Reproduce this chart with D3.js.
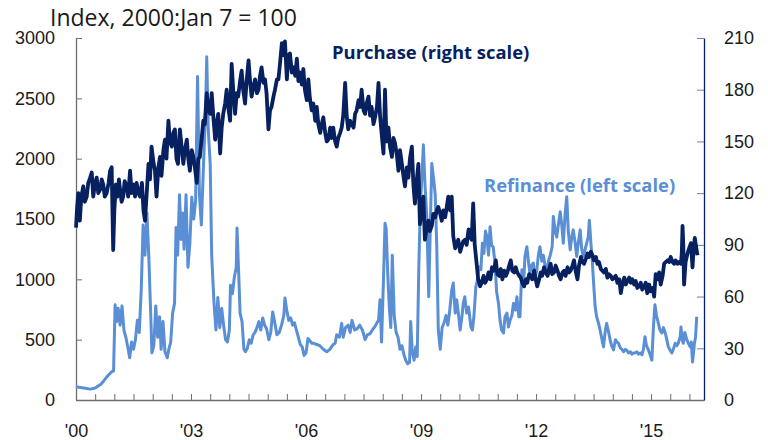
<!DOCTYPE html>
<html>
<head>
<meta charset="utf-8">
<script src="https://cdn.jsdelivr.net/npm/d3@7"></script>
<style>
  body { margin: 0; background: #fff; }
  svg { display: block; font-family: "Open Sans", "Noto Sans", sans-serif; }
</style>
</head>
<body>
<svg id="chart" width="768" height="440"></svg>
<script>
// weekly-ish readings, [decimal year, index]
const refinance = [
  [2000.00,110],[2000.08,105],[2000.20,100],[2000.37,90],[2000.50,100],[2000.65,130],[2000.80,190],[2000.93,235],[2000.98,240],
  [2001.02,790],[2001.06,650],[2001.10,760],[2001.15,620],[2001.20,780],[2001.25,580],[2001.30,520],[2001.35,440],[2001.40,350],
  [2001.45,480],[2001.50,420],[2001.55,500],[2001.60,660],[2001.65,560],[2001.70,900],[2001.75,1450],[2001.80,1200],[2001.85,1550],
  [2001.90,1180],[2001.95,700],[2001.98,390],[2002.03,450],[2002.08,780],[2002.13,520],[2002.18,690],[2002.22,420],[2002.27,650],
  [2002.32,400],[2002.38,350],[2002.42,420],[2002.47,480],[2002.52,720],[2002.57,800],[2002.61,1430],[2002.65,1200],[2002.70,1700],
  [2002.74,1330],[2002.78,1550],[2002.82,1250],[2002.87,1700],[2002.92,1100],[2002.97,1300],[2003.02,1680],[2003.07,1500],
  [2003.12,1650],[2003.17,2680],[2003.22,1700],[2003.27,1450],[2003.32,1900],[2003.38,2400],[2003.41,2845],[2003.45,2240],
  [2003.50,1960],[2003.54,1190],[2003.60,800],[2003.65,580],[2003.70,850],[2003.75,600],[2003.80,760],[2003.85,620],[2003.90,500],
  [2003.95,480],[2004.00,580],[2004.03,950],[2004.08,880],[2004.13,1020],[2004.18,1100],[2004.20,1425],[2004.24,1080],[2004.28,720],
  [2004.33,650],[2004.38,420],[2004.42,400],[2004.47,430],[2004.52,500],[2004.57,470],[2004.62,540],[2004.67,560],[2004.72,600],
  [2004.77,650],[2004.82,580],[2004.87,680],[2004.92,620],[2004.97,590],[2005.03,500],[2005.08,560],[2005.13,730],[2005.18,650],
  [2005.24,540],[2005.30,560],[2005.36,620],[2005.42,700],[2005.45,845],[2005.50,740],[2005.55,660],[2005.60,680],[2005.65,620],
  [2005.70,640],[2005.75,580],[2005.80,520],[2005.85,460],[2005.90,440],[2005.95,370],[2006.00,390],[2006.05,510],[2006.10,490],
  [2006.15,470],[2006.20,470],[2006.28,460],[2006.36,450],[2006.45,420],[2006.54,400],[2006.62,420],[2006.71,460],[2006.76,470],
  [2006.80,540],[2006.87,520],[2006.93,635],[2006.97,520],[2007.03,600],[2007.10,620],[2007.15,560],[2007.20,660],[2007.27,580],
  [2007.33,590],[2007.40,620],[2007.47,580],[2007.54,500],[2007.60,540],[2007.67,550],[2007.73,580],[2007.80,610],[2007.85,640],
  [2007.89,660],[2007.93,830],[2007.97,480],[2008.02,1000],[2008.06,1465],[2008.09,1420],[2008.13,1050],[2008.17,780],[2008.21,600],
  [2008.25,1200],[2008.30,700],[2008.35,560],[2008.40,520],[2008.45,420],[2008.50,450],[2008.55,380],[2008.60,330],[2008.65,300],
  [2008.70,310],[2008.73,650],[2008.77,400],[2008.82,330],[2008.86,440],[2008.90,360],[2008.94,1080],[2008.98,1600],[2009.03,1900],
  [2009.06,2115],[2009.10,1800],[2009.15,1520],[2009.20,855],[2009.24,1410],[2009.28,1960],[2009.33,1825],[2009.37,1700],
  [2009.41,1270],[2009.45,580],[2009.50,420],[2009.55,600],[2009.60,640],[2009.65,700],[2009.70,620],[2009.75,750],[2009.80,910],
  [2009.84,970],[2009.89,720],[2009.93,830],[2009.98,700],[2010.02,580],[2010.07,700],[2010.10,800],[2010.14,855],[2010.19,720],
  [2010.24,770],[2010.30,605],[2010.34,580],[2010.38,700],[2010.43,940],[2010.47,995],[2010.51,1105],[2010.56,1080],[2010.60,1300],
  [2010.64,1215],[2010.68,1400],[2010.72,1350],[2010.76,1200],[2010.80,1435],[2010.84,1280],[2010.88,1270],[2010.93,1135],
  [2010.97,900],[2011.02,800],[2011.06,660],[2011.10,580],[2011.15,555],[2011.19,690],[2011.24,720],[2011.28,605],[2011.32,660],
  [2011.37,700],[2011.41,800],[2011.46,745],[2011.50,855],[2011.55,690],[2011.58,690],[2011.63,1080],[2011.67,940],[2011.71,1190],
  [2011.76,1270],[2011.80,1150],[2011.84,1050],[2011.89,1120],[2011.93,1135],[2011.97,1000],[2012.02,1080],[2012.06,1200],
  [2012.10,1270],[2012.15,1150],[2012.19,1200],[2012.24,1100],[2012.28,1080],[2012.33,1160],[2012.37,1200],[2012.42,1270],
  [2012.45,1520],[2012.50,1400],[2012.54,1350],[2012.58,1450],[2012.63,1560],[2012.67,1450],[2012.71,1300],[2012.76,1550],
  [2012.80,1685],[2012.84,1400],[2012.89,1245],[2012.93,1350],[2012.97,1410],[2013.02,1300],[2013.06,1190],[2013.10,1300],
  [2013.15,1410],[2013.19,1250],[2013.23,1190],[2013.28,1250],[2013.32,1300],[2013.36,1350],[2013.39,1490],[2013.43,1300],
  [2013.47,1135],[2013.50,970],[2013.54,775],[2013.58,690],[2013.63,635],[2013.67,580],[2013.72,500],[2013.76,440],[2013.80,560],
  [2013.84,635],[2013.88,580],[2013.93,500],[2013.97,450],[2014.02,415],[2014.07,500],[2014.11,480],[2014.15,470],[2014.20,430],
  [2014.24,420],[2014.28,400],[2014.33,420],[2014.37,410],[2014.41,390],[2014.46,400],[2014.50,380],[2014.54,390],[2014.58,390],
  [2014.63,400],[2014.67,380],[2014.72,390],[2014.76,375],[2014.80,420],[2014.84,525],[2014.88,450],[2014.93,415],[2014.97,380],
  [2015.02,330],[2015.06,600],[2015.10,790],[2015.14,700],[2015.19,635],[2015.23,580],[2015.28,555],[2015.32,600],[2015.37,555],
  [2015.41,500],[2015.45,440],[2015.50,410],[2015.54,390],[2015.58,420],[2015.63,470],[2015.67,450],[2015.71,470],[2015.76,530],
  [2015.78,605],[2015.81,500],[2015.84,470],[2015.88,560],[2015.93,500],[2015.97,470],[2016.02,440],[2016.05,480],[2016.08,315],
  [2016.11,400],[2016.13,470],[2016.16,520],[2016.19,690]
];

const purchase = [
  [2000.00,100],[2000.03,112],[2000.06,120],[2000.10,104],[2000.14,118],[2000.19,124],[2000.23,115],[2000.28,118],[2000.32,126],
  [2000.37,129],[2000.41,132],[2000.45,118],[2000.50,126],[2000.54,129],[2000.58,120],[2000.63,122],[2000.67,128],[2000.71,125],
  [2000.75,118],[2000.80,120],[2000.85,126],[2000.89,133],[2000.93,135],[2000.97,87],[2001.00,110],[2001.04,125],[2001.08,118],
  [2001.12,128],[2001.15,122],[2001.19,115],[2001.23,118],[2001.27,127],[2001.32,124],[2001.36,118],[2001.41,133],[2001.45,120],
  [2001.50,125],[2001.54,118],[2001.58,126],[2001.63,120],[2001.67,118],[2001.72,126],[2001.76,110],[2001.80,104],[2001.85,122],
  [2001.89,137],[2001.93,128],[2001.97,147],[2002.02,138],[2002.06,133],[2002.10,118],[2002.15,135],[2002.19,141],[2002.23,130],
  [2002.28,145],[2002.32,151],[2002.36,140],[2002.41,162],[2002.45,150],[2002.50,147],[2002.54,155],[2002.58,157],[2002.62,140],
  [2002.66,137],[2002.71,157],[2002.75,148],[2002.80,137],[2002.84,145],[2002.89,151],[2002.93,140],[2002.97,133],[2003.02,145],
  [2003.06,141],[2003.10,135],[2003.15,126],[2003.19,140],[2003.23,141],[2003.28,152],[2003.32,162],[2003.36,160],[2003.41,178],
  [2003.45,168],[2003.50,166],[2003.54,178],[2003.58,165],[2003.63,151],[2003.67,160],[2003.71,166],[2003.76,143],[2003.80,158],
  [2003.84,166],[2003.89,172],[2003.93,180],[2003.97,170],[2004.02,162],[2004.06,195],[2004.10,180],[2004.15,166],[2004.19,178],
  [2004.23,176],[2004.28,185],[2004.32,191],[2004.36,180],[2004.41,172],[2004.45,185],[2004.50,197],[2004.54,185],[2004.58,176],
  [2004.63,182],[2004.67,186],[2004.72,178],[2004.76,180],[2004.80,188],[2004.84,193],[2004.89,184],[2004.93,186],[2004.97,178],
  [2005.02,157],[2005.06,168],[2005.10,170],[2005.15,176],[2005.19,180],[2005.24,186],[2005.28,186],[2005.32,195],[2005.37,207],
  [2005.41,200],[2005.45,208],[2005.50,186],[2005.54,200],[2005.58,201],[2005.63,190],[2005.67,193],[2005.72,188],[2005.76,198],
  [2005.80,185],[2005.84,190],[2005.89,183],[2005.93,192],[2005.97,180],[2006.02,174],[2006.06,186],[2006.10,175],[2006.15,168],
  [2006.19,172],[2006.24,162],[2006.28,170],[2006.32,160],[2006.37,155],[2006.41,160],[2006.45,164],[2006.50,155],[2006.54,150],
  [2006.58,151],[2006.63,158],[2006.67,152],[2006.71,158],[2006.76,150],[2006.80,147],[2006.84,152],[2006.89,155],[2006.93,158],
  [2006.97,165],[2007.02,184],[2007.06,165],[2007.10,157],[2007.15,162],[2007.19,160],[2007.24,158],[2007.28,166],[2007.32,168],
  [2007.37,174],[2007.41,170],[2007.45,180],[2007.50,168],[2007.54,166],[2007.58,172],[2007.63,176],[2007.67,165],[2007.71,170],
  [2007.76,160],[2007.80,164],[2007.85,170],[2007.89,184],[2007.93,165],[2007.97,155],[2008.02,143],[2008.06,180],[2008.10,150],
  [2008.15,158],[2008.19,147],[2008.24,141],[2008.28,152],[2008.32,149],[2008.37,142],[2008.41,133],[2008.45,145],[2008.50,137],
  [2008.54,130],[2008.58,124],[2008.63,135],[2008.67,129],[2008.71,140],[2008.76,147],[2008.80,125],[2008.84,114],[2008.89,128],
  [2008.93,137],[2008.97,102],[2009.02,112],[2009.06,118],[2009.10,93],[2009.15,100],[2009.19,104],[2009.23,98],[2009.28,101],
  [2009.32,108],[2009.37,106],[2009.41,110],[2009.45,112],[2009.50,108],[2009.54,104],[2009.58,110],[2009.63,106],[2009.67,112],
  [2009.71,118],[2009.76,110],[2009.80,118],[2009.84,95],[2009.89,88],[2009.93,91],[2009.97,93],[2010.02,86],[2010.06,89],
  [2010.10,92],[2010.15,93],[2010.19,90],[2010.24,99],[2010.28,95],[2010.32,93],[2010.36,114],[2010.40,90],[2010.45,79],
  [2010.49,70],[2010.54,66],[2010.58,68],[2010.63,72],[2010.67,68],[2010.72,70],[2010.76,74],[2010.81,70],[2010.85,77],[2010.90,75],
  [2010.95,81],[2010.99,73],[2011.04,72],[2011.08,76],[2011.12,70],[2011.17,75],[2011.21,72],[2011.25,74],[2011.30,78],[2011.34,81],
  [2011.38,75],[2011.43,74],[2011.47,77],[2011.51,74],[2011.56,72],[2011.60,71],[2011.64,68],[2011.69,66],[2011.73,70],[2011.77,68],
  [2011.82,73],[2011.86,72],[2011.90,70],[2011.95,75],[2011.99,70],[2012.03,66],[2012.08,70],[2012.12,74],[2012.16,72],[2012.21,77],
  [2012.25,74],[2012.30,72],[2012.34,76],[2012.38,79],[2012.42,73],[2012.47,74],[2012.51,78],[2012.56,75],[2012.60,72],[2012.64,70],
  [2012.69,74],[2012.73,75],[2012.77,72],[2012.82,77],[2012.86,74],[2012.90,75],[2012.95,78],[2012.99,81],[2013.03,75],[2013.08,70],
  [2013.12,78],[2013.17,83],[2013.21,80],[2013.25,79],[2013.30,82],[2013.34,85],[2013.38,83],[2013.43,86],[2013.47,84],[2013.51,81],
  [2013.56,83],[2013.60,79],[2013.64,80],[2013.69,76],[2013.73,75],[2013.77,74],[2013.82,76],[2013.86,71],[2013.90,73],[2013.95,72],
  [2013.99,70],[2014.04,71],[2014.08,72],[2014.12,68],[2014.17,70],[2014.21,62],[2014.25,67],[2014.30,71],[2014.34,67],[2014.38,69],
  [2014.43,71],[2014.47,68],[2014.51,70],[2014.56,67],[2014.60,69],[2014.64,65],[2014.69,66],[2014.73,68],[2014.77,64],[2014.82,66],
  [2014.86,68],[2014.90,62],[2014.95,67],[2014.99,63],[2015.04,65],[2015.08,60],[2015.12,73],[2015.17,70],[2015.21,74],[2015.25,67],
  [2015.30,72],[2015.34,79],[2015.38,80],[2015.43,81],[2015.47,80],[2015.51,83],[2015.56,80],[2015.60,79],[2015.64,81],[2015.69,79],
  [2015.73,80],[2015.78,79],[2015.80,85],[2015.82,101],[2015.84,90],[2015.86,67],[2015.90,80],[2015.95,85],[2015.99,88],[2016.04,91],
  [2016.08,77],[2016.11,88],[2016.14,94],[2016.18,88],[2016.21,84]
];

const leftTicks = [0, 500, 1000, 1500, 2000, 2500, 3000];
const rightTicks = [0, 30, 60, 90, 120, 150, 180, 210];
const yearLabels = [2000, 2003, 2006, 2009, 2012, 2015];

const [width, height] = [768, 440];
const margin = {top: 38, right: 64, bottom: 40, left: 76};
const navy = "#062060";
const lightBlue = "#5a8fd6";
const axisGrey = "#6e6e6e";

const svg = d3.select("#chart");

const x = d3.scaleLinear().domain([2000, 2016.38]).range([margin.left, width - margin.right]);
const yLeft = d3.scaleLinear().domain([0, 3000]).range([height - margin.bottom, margin.top]);
const yRight = d3.scaleLinear().domain([0, 210]).range([height - margin.bottom, margin.top]);

// axes, ticks point into the plot
const leftAxis = svg.append("g")
    .attr("transform", `translate(${margin.left},0)`)
    .call(d3.axisLeft(yLeft).tickValues(leftTicks).tickFormat(d3.format("d"))
        .tickSize(-6).tickPadding(21).tickSizeOuter(0));
leftAxis.select(".domain").attr("stroke", axisGrey).attr("stroke-width", 1.3);
leftAxis.selectAll(".tick line").attr("stroke", axisGrey);

const rightAxis = svg.append("g")
    .attr("transform", `translate(${width - margin.right},0)`)
    .call(d3.axisRight(yRight).tickValues(rightTicks).tickSize(-7).tickPadding(20).tickSizeOuter(0));
rightAxis.select(".domain").attr("stroke", navy).attr("stroke-width", 1.3);
rightAxis.selectAll(".tick line").attr("stroke", "#6f7fa6");

const halfYears = d3.range(2000, 2016.5, 0.5);

const bottomAxis = svg.append("g")
    .attr("transform", `translate(0,${height - margin.bottom})`)
    .call(d3.axisBottom(x).tickValues(halfYears).tickSize(-6).tickPadding(24).tickSizeOuter(0)
        .tickFormat(d => yearLabels.includes(d) ? "'" + String(d).slice(2) : ""));
bottomAxis.select(".domain").attr("stroke", axisGrey).attr("stroke-width", 1.6);
bottomAxis.selectAll(".tick line").attr("stroke", axisGrey);

svg.selectAll(".tick text")
    .attr("font-size", 18)
    .attr("fill", "#1a1a1a");

// lines: purchase sits on top
const refiLine = d3.line().x(d => x(d[0])).y(d => yLeft(d[1]));
const purchLine = d3.line().x(d => x(d[0])).y(d => yRight(d[1]));

svg.append("path")
    .datum(refinance)
    .attr("fill", "none")
    .attr("stroke", lightBlue)
    .attr("stroke-width", 3)
    .attr("stroke-linejoin", "round")
    .attr("d", refiLine);

svg.append("path")
    .datum(purchase)
    .attr("fill", "none")
    .attr("stroke", navy)
    .attr("stroke-width", 3.8)
    .attr("stroke-linejoin", "round")
    .attr("d", purchLine);

// labels
svg.append("text")
    .attr("x", 50).attr("y", 26)
    .attr("font-size", 23)
    .attr("fill", "#1a1a1a")
    .text("Index, 2000:Jan 7 = 100");

svg.append("text")
    .attr("x", 332).attr("y", 59)
    .attr("font-size", 18.4)
    .attr("font-weight", "bold")
    .attr("fill", navy)
    .text("Purchase (right scale)");

svg.append("text")
    .attr("x", 484).attr("y", 192)
    .attr("font-size", 18.4)
    .attr("font-weight", "bold")
    .attr("fill", lightBlue)
    .text("Refinance (left scale)");
</script>
</body>
</html>
